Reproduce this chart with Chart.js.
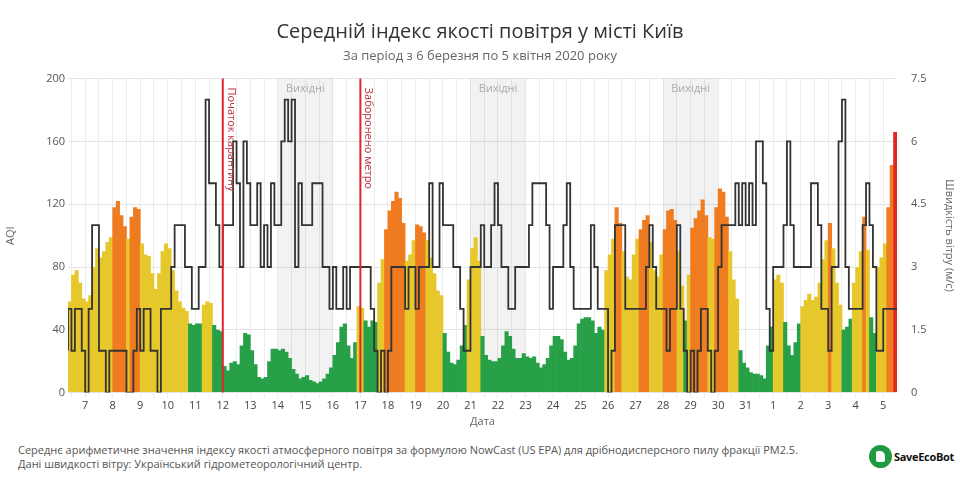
<!DOCTYPE html>
<html lang="uk">
<head>
<meta charset="utf-8">
<script src="https://cdn.jsdelivr.net/npm/chart.js@4.4.1/dist/chart.umd.min.js"></script>
<style>
  html, body { margin: 0; padding: 0; background: #fff; }
  body { width: 960px; height: 480px; position: relative; overflow: hidden; font-family: "Open Sans", sans-serif; }
  #wrap { position: absolute; left: 0; top: 0; width: 960px; height: 432px; }
  #foot { position: absolute; left: 18px; top: 443px; font-size: 11px; line-height: 14px; color: #555; }
  #logo { position: absolute; left: 869px; top: 444px; height: 24px; display: flex; align-items: center; }
  #logo .dot { width: 23px; height: 23px; border-radius: 50%; background: #1f9a3f; position: relative; }
  #logo .dot::after { content: ""; position: absolute; left: 7px; top: 6px; width: 9px; height: 11px; background: #fff; border-radius: 2px 5px 2px 2px; }
  #logo span { font-weight: 700; font-size: 11px; color: #111; margin-left: 2px; letter-spacing: -0.3px; }
</style>
</head>
<body>
<div id="wrap"><canvas id="chart" width="960" height="432"></canvas></div>
<div id="foot">
  Середнє арифметичне значення індексу якості атмосферного повітря за формулою NowCast (US EPA) для дрібнодисперсного пилу фракції PM2.5.<br>
  Дані швидкості вітру: Український гідрометеорологічний центр.
</div>
<div id="logo"><div class="dot"></div><span>SaveEcoBot</span></div>
<script>
// hours counted from 7 March 00:00, one value per 3 hours
const startHour = -15;
const endHour = 708;
const binHours = 3;

const dayLabels = ['7', '8', '9', '10', '11', '12', '13', '14', '15', '16', '17', '18', '19', '20', '21',
    '22', '23', '24', '25', '26', '27', '28', '29', '30', '31', '1', '2', '3', '4', '5'];

// AQI (PM2.5 NowCast)
const aqi = [
    58, 75, 78, 70, 60,                 // 6 Mar
    58, 62, 80, 92, 86, 90, 96, 99,     // 7
    118, 122, 113, 106, 98, 112, 118, 117,
    95, 88, 87, 76, 66, 76, 90, 95,
    92, 78, 65, 58, 54, 52, 44, 43,     // 10
    44, 44, 56, 58, 57, 43, 40, 39,
    17, 14, 19, 20, 18, 30, 38, 37,
    27, 18, 10, 9, 10, 20, 28, 28,
    27, 28, 26, 22, 15, 12, 9, 10,
    11, 8, 7, 6, 7, 9, 12, 16,          // 15
    24, 32, 42, 44, 30, 22, 32, 55,
    54, 46, 42, 46, 45, 70, 85, 104,
    116, 122, 128, 124, 108, 84, 88, 97,
    107, 106, 102, 97, 86, 76, 65, 62,
    38, 26, 19, 18, 21, 30, 43, 72,     // 20
    92, 99, 84, 36, 24, 21, 20, 20,
    22, 30, 39, 36, 28, 22, 22, 25,
    23, 22, 23, 19, 16, 18, 22, 30,
    36, 36, 34, 26, 21, 22, 30, 44,
    47, 48, 48, 46, 38, 42, 40, 78,     // 25
    88, 98, 118, 108, 90, 74, 72, 88,
    98, 104, 110, 113, 96, 78, 74, 88,
    104, 116, 117, 110, 90, 68, 46, 75,
    105, 111, 116, 123, 113, 99, 98, 118,
    130, 128, 112, 90, 72, 60, 27, 19,  // 30
    16, 13, 12, 12, 11, 9, 30, 42,
    72, 75, 70, 45, 30, 24, 32, 44,     // 1 Apr
    55, 59, 63, 59, 61, 70, 85, 97,
    108, 92, 70, 56, 40, 42, 47, 70,
    80, 90, 112, 91, 48, 38, 80, 86,
    95, 118, 145, 166                   // 5 Apr
];

// wind speed, m/s
const wind = [
    1, 2, 1, 2, 2,
    1, 0, 2, 4, 4, 1, 1, 0,
    1, 1, 1, 1, 1, 0, 0, 1,
    2, 1, 2, 2, 1, 1, 0, 2,
    2, 2, 3, 4, 4, 4, 3, 3,
    2, 2, 3, 3, 7, 5, 5, 4,
    3, 4, 4, 4, 6, 5, 3, 6,
    5, 4, 4, 5, 3, 4, 3, 5,
    4, 4, 6, 7, 6, 7, 3, 5,
    4, 4, 4, 5, 5, 5, 3, 3,
    2, 3, 2, 2, 3, 2, 3, 3,
    3, 3, 3, 3, 2, 1, 0, 1,
    0, 1, 3, 3, 3, 3, 2, 3,
    3, 2, 3, 3, 3, 5, 3, 3,
    5, 4, 4, 4, 3, 3, 2, 1,
    1, 3, 3, 3, 4, 3, 3, 4,
    5, 4, 3, 3, 2, 2, 3, 3,
    3, 3, 4, 5, 5, 5, 5, 4,
    2, 3, 3, 3, 4, 5, 3, 2,
    2, 2, 2, 2, 4, 3, 2, 2,
    2, 0, 1, 4, 4, 4, 2, 2,
    2, 2, 2, 2, 3, 4, 3, 2,
    2, 2, 1, 2, 2, 4, 2, 1,
    0, 1, 0, 1, 2, 2, 1, 0,
    1, 3, 4, 4, 4, 4, 5, 4,
    5, 4, 5, 4, 6, 6, 5, 2,
    1, 3, 3, 3, 4, 6, 4, 3,
    3, 3, 3, 3, 5, 5, 4, 2,
    2, 1, 3, 3, 6, 7, 3, 2,
    2, 2, 2, 4, 5, 4, 3, 1,
    1, 2, 2, 2
];

const weekends = [[168, 216], [336, 384], [504, 552]];
const weekendLabel = 'Вихідні';
const eventHours = [120, 240];
const eventLabels = ['Початок карантину', 'Заборонено метро'];

const aqiColor = v => v <= 50 ? '#27a048' : v <= 100 ? '#e6c82c' : v <= 150 ? '#f07c21' : '#e3261f';

const barPts = aqi.map((v, i) => ({ x: startHour + binHours * i + binHours / 2, y: v }));
const windPts = wind.map((v, i) => ({ x: startHour + binHours * i, y: v }));
windPts.push({ x: endHour, y: wind[wind.length - 1] });

const overlays = {
    id: 'overlays',
    beforeDatasetsDraw(chart) {
        const { ctx, chartArea: a, scales: { x } } = chart;
        ctx.save();
        weekends.forEach(([s, e]) => {
            const x0 = x.getPixelForValue(s), x1 = x.getPixelForValue(e);
            ctx.fillStyle = 'rgba(0,0,0,0.05)';
            ctx.fillRect(x0, a.top, x1 - x0, a.bottom - a.top);
            ctx.fillStyle = '#aaa';
            ctx.font = '11px "Open Sans"';
            ctx.textAlign = 'center';
            ctx.textBaseline = 'middle';
            ctx.fillText(weekendLabel, (x0 + x1) / 2, a.top + 10);
        });
        ctx.restore();
    },
    afterDatasetsDraw(chart) {
        const { ctx, chartArea: a, scales: { x } } = chart;
        ctx.save();
        eventHours.forEach((h, i) => {
            const px = x.getPixelForValue(h);
            ctx.strokeStyle = '#e0242c';
            ctx.lineWidth = 2;
            ctx.beginPath();
            ctx.moveTo(px, a.top);
            ctx.lineTo(px, a.bottom);
            ctx.stroke();
            ctx.save();
            ctx.translate(px + 8, a.top + 9);
            ctx.rotate(Math.PI / 2);
            ctx.fillStyle = '#b83040';
            ctx.font = '11px "Open Sans"';
            ctx.textAlign = 'left';
            ctx.textBaseline = 'middle';
            ctx.fillText(eventLabels[i], 0, 0);
            ctx.restore();
        });
        ctx.restore();
    }
};

new Chart(document.getElementById('chart'), {
    data: {
        datasets: [{
            type: 'line',
            data: windPts,
            yAxisID: 'y2',
            borderColor: '#333',
            borderWidth: 1.8,
            pointRadius: 0,
            stepped: 'after',
            order: 0
        }, {
            type: 'bar',
            data: barPts,
            yAxisID: 'y',
            backgroundColor: aqi.map(aqiColor),
            borderWidth: 0,
            inflateAmount: 0,
            barThickness: 'flex',
            barPercentage: 1.2,
            categoryPercentage: 1,
            order: 1
        }]
    },
    options: {
        responsive: false,
        animation: false,
        devicePixelRatio: 1,
        layout: { padding: { left: 0, right: 0, bottom: 4 } },
        plugins: {
            legend: { display: false },
            tooltip: { enabled: false },
            title: {
                display: true,
                text: 'Середній індекс якості повітря у місті Київ',
                color: '#333',
                font: { family: 'Open Sans', size: 20, weight: 'normal' },
                padding: { top: 20, bottom: 4 }
            },
            subtitle: {
                display: true,
                text: 'За період з 6 березня по 5 квітня 2020 року',
                color: '#666',
                font: { family: 'Open Sans', size: 13 },
                padding: { bottom: 15 }
            }
        },
        scales: {
            x: {
                type: 'linear',
                offset: false,
                min: startHour,
                max: endHour,
                afterBuildTicks: s => {
                    const t = [];
                    for (let h = -12; h < endHour; h += 12) t.push({ value: h });
                    s.ticks = t;
                },
                ticks: {
                    autoSkip: false,
                    maxRotation: 0,
                    color: '#444',
                    font: { family: 'Open Sans', size: 11 },
                    padding: 2,
                    callback: v => (v >= 0 && v % 24 === 0) ? dayLabels[v / 24] : ''
                },
                grid: { color: '#ececec', tickLength: 5, offset: false },
                border: { display: false },
                title: { display: true, text: 'Дата', color: '#666', font: { family: 'Open Sans', size: 11 }, padding: 0 }
            },
            y: {
                position: 'left',
                min: 0,
                max: 200,
                ticks: { stepSize: 40, color: '#555', font: { family: 'Open Sans', size: 11 } },
                grid: { color: '#e4e4e4', drawTicks: false },
                border: { display: false },
                title: { display: true, text: 'AQI', color: '#666', font: { family: 'Open Sans', size: 11 } },
                afterFit: s => { s.width = 68; }
            },
            y2: {
                position: 'right',
                min: 0,
                max: 7.5,
                ticks: {
                    stepSize: 1.5, color: '#555', font: { family: 'Open Sans', size: 11 }, padding: 14,
                    callback: v => String(+v.toFixed(1))
                },
                grid: { drawOnChartArea: false, drawTicks: false },
                border: { display: false },
                title: { display: true, text: 'Швидкість вітру (м/с)', color: '#666', font: { family: 'Open Sans', size: 11 } },
                afterFit: s => { s.width = 63; }
            }
        }
    },
    plugins: [overlays]
});
</script>
</body>
</html>
